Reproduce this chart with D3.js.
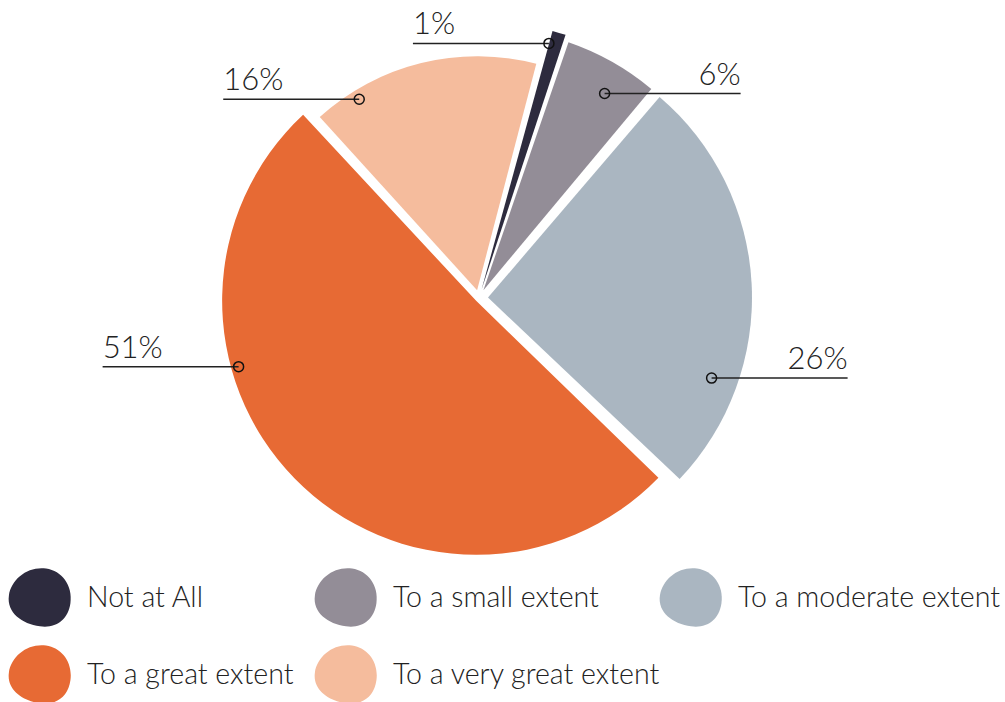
<!DOCTYPE html>
<html><head><meta charset="utf-8">
<script src="https://cdn.jsdelivr.net/npm/d3@7"></script>
<style>
html,body{margin:0;padding:0;background:#fff;}
svg{display:block;font-family:Lato,"Open Sans",sans-serif;font-weight:300;}
</style></head>
<body><svg id="chart" width="1005" height="702"></svg>
<script>
const categories = ["Not at All","To a small extent","To a moderate extent","To a great extent","To a very great extent"];
const values = [1, 6, 26, 51, 16];
const valueLabels = ["1%","6%","26%","51%","16%"];
const colors = ["#2d2b3e","#938d97","#aab6c1","#e76a34","#f5bc9d"];

// layout / style config (not data)
const cx = 479, cy = 298;
const outerR = [268, 262, 264, 254, 234];
const explode = [9, 9, 9, 4, 8];
// anchor: fraction across slice angle, radius; leader direction (-1 left, +1 right)
const anchors = [
  {f:0.1, r:264, dir:-1},
  {f:0.6, r:240, dir:1},
  {f:0.735, r:246, dir:1},
  {f:0.655, r:250, dir:-1},
  {f:0.2, r:232, dir:-1}
];
const leaderLen = 136;

const svg = d3.select("#chart");
const startA = 15 * Math.PI / 180;
const pie = d3.pie().sort(null).value(d => d).startAngle(startA).endAngle(startA + 2*Math.PI);
const arcs = pie(values);

const g = svg.append("g").attr("transform", `translate(${cx},${cy})`);

arcs.forEach((a, i) => {
  const mid = (a.startAngle + a.endAngle) / 2;
  const ox = Math.sin(mid) * explode[i], oy = -Math.cos(mid) * explode[i];
  const arc = d3.arc().innerRadius(0).outerRadius(outerR[i]).padAngle(0.012);
  g.append("path")
    .attr("d", arc(a))
    .attr("transform", `translate(${ox},${oy})`)
    .attr("fill", colors[i]);
});

// leaders and labels
arcs.forEach((a, i) => {
  const an = anchors[i];
  const ang = a.startAngle + (a.endAngle - a.startAngle) * an.f;
  const px = Math.sin(ang) * an.r, py = -Math.cos(ang) * an.r;
  const ex = px + an.dir * leaderLen;
  g.append("line").attr("x1", px).attr("y1", py).attr("x2", ex).attr("y2", py)
    .attr("stroke", "#222").attr("stroke-width", 1.5);
  g.append("circle").attr("cx", px).attr("cy", py).attr("r", 5)
    .attr("fill", "none").attr("stroke", "#111").attr("stroke-width", 1.5);
  g.append("text").attr("x", ex).attr("y", py - 9)
    .attr("text-anchor", an.dir < 0 ? "start" : "end")
    .attr("font-size", 31).attr("fill", "#222")
    .text(valueLabels[i]);
});

// legend
const legendPos = [[40,597],[346,597],[691,597],[40,674],[346,674]];
const blob = "M2,-29 C18,-29 31,-16 31,2 C31,19 20,29 4,29 C-14,29 -31,20 -31,3 C-31,-14 -16,-29 2,-29 Z";
categories.forEach((c, i) => {
  const [x, y] = legendPos[i];
  svg.append("path").attr("d", blob).attr("transform", `translate(${x},${y}) rotate(8)`).attr("fill", colors[i]);
  svg.append("text").attr("x", x + 47).attr("y", y + 10)
    .attr("font-size", 28.6).attr("fill", "#222").text(c);
});
</script></body></html>
